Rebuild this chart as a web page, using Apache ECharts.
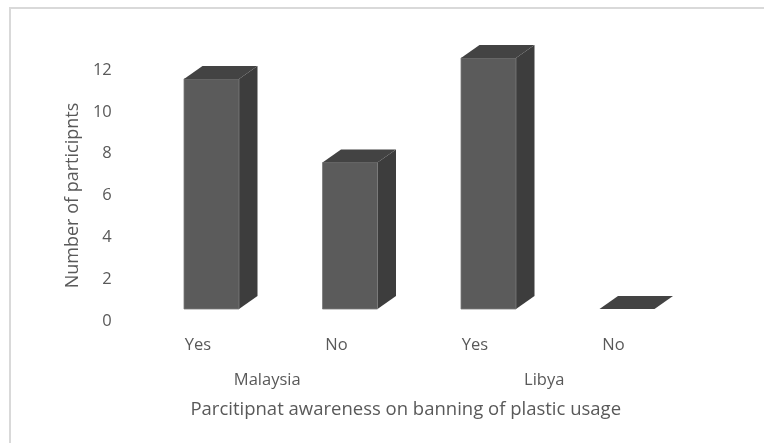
<!DOCTYPE html>
<html>
<head>
<meta charset="utf-8">
<script src="https://cdn.jsdelivr.net/npm/echarts@6/dist/echarts.min.js"></script>
<style>html,body{margin:0;padding:0;background:#fff}#c{width:764px;height:443px}</style>
</head>
<body>
<div id="c"></div>
<script>
const categories = ['Yes', 'No', 'Yes', 'No'];
const groups = ['Malaysia', 'Libya'];
const values = [11, 7, 12, 0];
const yTicks = [0, 2, 4, 6, 8, 10, 12];
const yAxisTitle = 'Number of participnts';
const xAxisTitle = 'Parcitipnat awareness on banning of plastic usage';

const FONT = 'Open Sans';
const TXT = '#595959';
const chart = echarts.init(document.getElementById('c'));

function renderBox(params, api) {
  const idx = api.value(0);
  const v = api.value(1);
  const top = api.coord([idx, v]);
  const base = api.coord([idx, 0]);
  const lift = 12, dx = 18.5, dy = -13;
  const x0 = top[0] - 14, x1 = top[0] + 41;
  const yB = base[1] - lift;
  const yT = top[1] - lift;
  const children = [];
  if (yB - yT > 0.5) {
    children.push({
      type: 'polygon',
      shape: { points: [[x1, yT], [x1 + dx, yT + dy], [x1 + dx, yB + dy], [x1, yB]] },
      style: { fill: '#3d3d3d' }
    });
    children.push({
      type: 'rect',
      shape: { x: x0, y: yT, width: x1 - x0, height: yB - yT },
      style: { fill: '#5b5b5b', stroke: '#7a7a7a', lineWidth: 0.8 }
    });
  }
  children.push({
    type: 'polygon',
    shape: { points: [[x0, yT], [x0 + dx, yT + dy], [x1 + dx, yT + dy], [x1, yT]] },
    style: { fill: '#434343' }
  });
  return { type: 'group', children };
}

chart.setOption({
  animation: false,
  backgroundColor: '#fff',
  graphic: [{
    type: 'rect',
    shape: { x: 10, y: 8, width: 800, height: 500 },
    style: { fill: 'none', stroke: '#d9d9d9', lineWidth: 2 },
    silent: true
  }],
  grid: { left: 128.75, width: 554, top: 70, bottom: 122 },
  xAxis: [{
    type: 'category',
    data: categories,
    position: 'bottom',
    axisLine: { show: false },
    axisTick: { show: false },
    axisLabel: { color: TXT, fontFamily: FONT, fontSize: 16.5, margin: 16 }
  }, {
    type: 'category',
    data: groups,
    position: 'bottom',
    offset: 51,
    axisLine: { show: false },
    axisTick: { show: false },
    axisLabel: { color: TXT, fontFamily: FONT, fontSize: 16.5, margin: 0 },
    name: xAxisTitle,
    nameLocation: 'middle',
    nameGap: 28,
    nameTextStyle: { color: TXT, fontFamily: FONT, fontSize: 18.5 }
  }],
  yAxis: {
    type: 'value',
    min: yTicks[0],
    max: yTicks[yTicks.length - 1],
    interval: yTicks[1] - yTicks[0],
    splitLine: { show: false },
    axisLine: { show: false },
    axisTick: { show: false },
    axisLabel: { color: TXT, fontFamily: FONT, fontSize: 16.5, margin: 17 },
    name: yAxisTitle,
    nameLocation: 'middle',
    nameGap: 46,
    nameRotate: 90,
    nameTextStyle: { color: TXT, fontFamily: FONT, fontSize: 18 }
  },
  series: [{
    type: 'custom',
    xAxisIndex: 0,
    renderItem: renderBox,
    data: values.map((v, i) => [i, v])
  }]
});
</script>
</body>
</html>
